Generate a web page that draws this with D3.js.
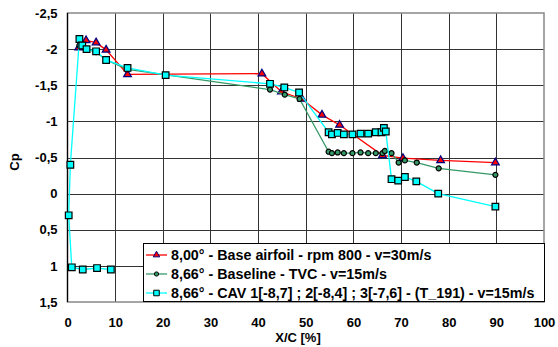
<!DOCTYPE html>
<html>
<head>
<meta charset="utf-8">
<script src="https://cdn.jsdelivr.net/npm/d3@7"></script>
<style>
  body { margin: 0; background: #fff; }
  text { font-family: "Liberation Sans", Arial, sans-serif; font-weight: bold; }
</style>
</head>
<body>
<svg id="chart" width="558" height="347"></svg>
<script>
// x/c positions and Cp values
const redX = [2.35, 3.9, 6.0, 8.1, 12.6, 40.8, 44.9, 49.2, 53.4, 57.1, 66.1, 70.4, 78.3, 89.8];
const redY = [-2.02, -2.12, -2.09, -1.99, -1.65, -1.66, -1.41, -1.31, -1.09, -0.95, -0.53, -0.49, -0.46, -0.43];

const greenX = [2.5, 3.9, 6.0, 8.1, 12.6, 42.5, 45.6, 48.7, 54.8, 55.5, 56.7, 58.0, 59.8, 61.5, 63.1, 64.7, 66.1, 66.6, 68.0, 69.5, 70.8, 73.3, 77.9, 89.8];
const greenY = [-2.05, -2.0, -1.96, -1.85, -1.72, -1.44, -1.37, -1.31, -0.58, -0.56, -0.57, -0.56, -0.56, -0.57, -0.56, -0.56, -0.56, -0.59, -0.56, -0.43, -0.46, -0.43, -0.35, -0.26];

const cyanX = [9.1, 6.2, 3.2, 0.9, 0.25, 0.6, 2.5, 3.1, 4.0, 6.0, 8.1, 12.6, 20.6, 42.5, 45.5, 48.6, 54.8, 55.5, 56.7, 58.0, 59.8, 61.5, 63.1, 64.7, 65.9, 66.4, 66.8, 68.0, 69.4, 70.8, 73.2, 77.8, 89.8];
const cyanY = [1.05, 1.03, 1.05, 1.02, 0.30, -0.40, -2.14, -2.05, -2.0, -1.97, -1.85, -1.74, -1.64, -1.52, -1.47, -1.40, -0.85, -0.82, -0.84, -0.82, -0.82, -0.83, -0.83, -0.85, -0.85, -0.91, -0.86, -0.20, -0.18, -0.23, -0.17, 0.0, 0.18];

const xTicks = [0, 10, 20, 30, 40, 50, 60, 70, 80, 90, 100];
const yTicks = [-2.5, -2, -1.5, -1, -0.5, 0, 0.5, 1, 1.5];

const legendLabels = [
  "8,00° - Base airfoil - rpm 800 - v=30m/s",
  "8,66° - Baseline - TVC - v=15m/s",
  "8,66° - CAV 1[-8,7] ; 2[-8,4] ; 3[-7,6] - (T_191) - v=15m/s"
];

const svg = d3.select("#chart");
const m = { left: 67.5, right: 544, top: 13, bottom: 302 };

const x = d3.scaleLinear().domain([0, 100]).range([m.left, m.right]);
const y = d3.scaleLinear().domain([-2.5, 1.5]).range([m.top, m.bottom]);

const fmt = (v) => String(v).replace(".", ",");

// grid
svg.append("g").selectAll("line").data(xTicks.slice(1, -1)).join("line")
  .attr("x1", (d) => Math.round(x(d)) + 0.5).attr("x2", (d) => Math.round(x(d)) + 0.5)
  .attr("y1", m.top).attr("y2", m.bottom)
  .attr("stroke", "#333").attr("stroke-width", 1);
svg.append("g").selectAll("line").data(yTicks.slice(1, -1)).join("line")
  .attr("y1", (d) => Math.round(y(d)) + 0.5).attr("y2", (d) => Math.round(y(d)) + 0.5)
  .attr("x1", m.left).attr("x2", m.right)
  .attr("stroke", "#333").attr("stroke-width", 1);

// frame
svg.append("rect")
  .attr("x", m.left).attr("y", m.top)
  .attr("width", m.right - m.left).attr("height", m.bottom - m.top)
  .attr("fill", "none").attr("stroke", "#888").attr("stroke-width", 1.5);
svg.append("line")
  .attr("x1", m.left).attr("x2", m.left).attr("y1", m.top).attr("y2", m.bottom)
  .attr("stroke", "#000").attr("stroke-width", 1.2);

// axes
const xAxis = svg.append("g").attr("transform", `translate(0,${m.bottom})`)
  .call(d3.axisBottom(x).tickValues(xTicks).tickSize(0).tickPadding(16));
const yAxis = svg.append("g").attr("transform", `translate(${m.left},0)`)
  .call(d3.axisLeft(y).tickValues(yTicks).tickFormat(fmt).tickSize(0).tickPadding(10));
[xAxis, yAxis].forEach((a) => {
  a.select(".domain").remove();
  a.selectAll("text").attr("font-size", 13).attr("font-family", "Liberation Sans, Arial").attr("font-weight", "bold").attr("fill", "#000");
});

svg.append("text").attr("x", 298).attr("y", 342).attr("text-anchor", "middle")
  .attr("font-size", 13).text("X/C [%]");
svg.append("text").attr("transform", "translate(19,162) rotate(-90)").attr("text-anchor", "middle")
  .attr("font-size", 13).text("Cp");

// series
const series = [
  { xs: redX, ys: redY, line: "#ff0000", fill: "#ff0000", stroke: "#000080", shape: d3.symbolTriangle, size: 26 },
  { xs: greenX, ys: greenY, line: "#339966", fill: "#339966", stroke: "#000", shape: d3.symbolCircle, size: 20 },
  { xs: cyanX, ys: cyanY, line: "#00ffff", fill: "#00ffff", stroke: "#000", shape: d3.symbolSquare, size: 44 }
];

const line = d3.line().x((d) => x(d[0])).y((d) => y(d[1]));

series.forEach((s) => {
  const pts = s.xs.map((v, i) => [v, s.ys[i]]);
  svg.append("path").datum(pts)
    .attr("d", line).attr("fill", "none")
    .attr("stroke", s.line).attr("stroke-width", 1.3);
  svg.append("g").selectAll("path").data(pts).join("path")
    .attr("d", d3.symbol(s.shape, s.size))
    .attr("transform", (d) => `translate(${x(d[0])},${y(d[1])})`)
    .attr("fill", s.fill).attr("stroke", s.stroke).attr("stroke-width", 1.2);
});

// legend
const lg = svg.append("g");
lg.append("rect").attr("x", 143.5).attr("y", 243.5).attr("width", 401).attr("height", 58)
  .attr("fill", "#fff").attr("stroke", "#000").attr("stroke-width", 1);
legendLabels.forEach((t, i) => {
  const s = series[i];
  const cy = 255 + i * 19;
  lg.append("line").attr("x1", 146).attr("x2", 167).attr("y1", cy).attr("y2", cy)
    .attr("stroke", s.line).attr("stroke-width", 1.3);
  lg.append("path").attr("d", d3.symbol(s.shape, s.size * 0.7))
    .attr("transform", `translate(156.5,${cy})`)
    .attr("fill", s.fill).attr("stroke", s.stroke).attr("stroke-width", 1);
  lg.append("text").attr("x", 171).attr("y", cy + 5).attr("font-size", 14.3).text(t);
});
</script>
</body>
</html>
